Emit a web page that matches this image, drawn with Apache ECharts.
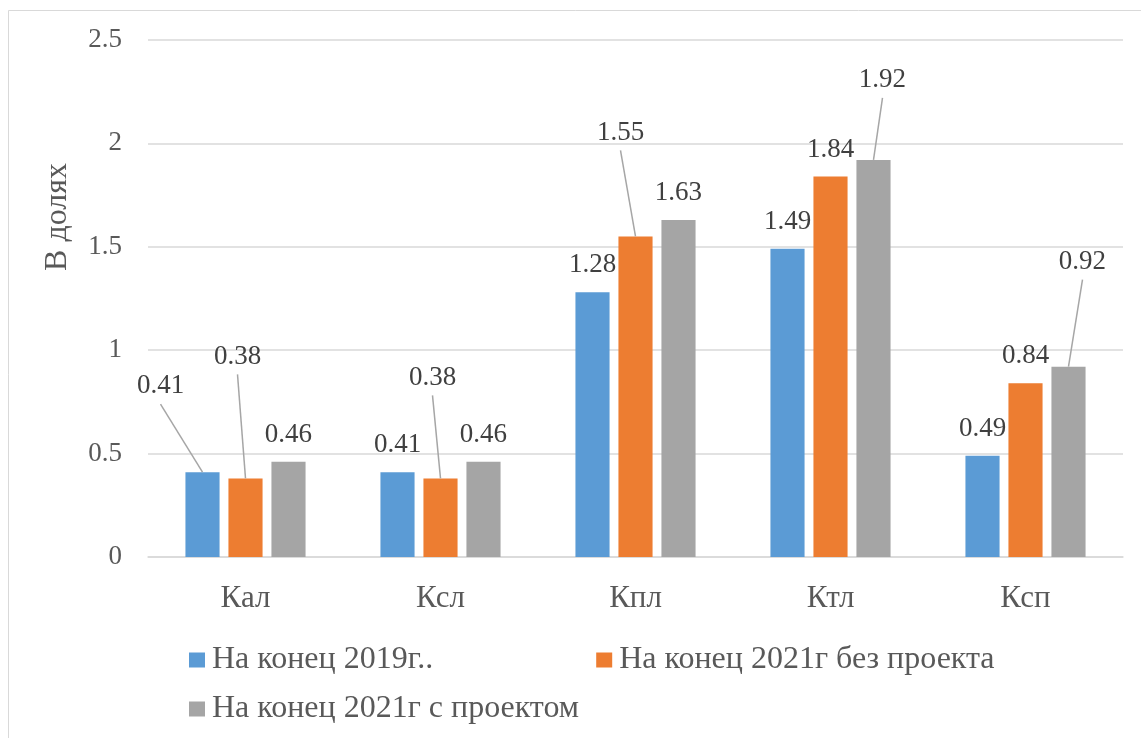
<!DOCTYPE html>
<html>
<head>
<meta charset="utf-8">
<script src="https://cdn.jsdelivr.net/npm/echarts@6/dist/echarts.min.js"></script>
<style>
  html, body { margin: 0; padding: 0; background: #ffffff; }
  #chart { width: 1141px; height: 738px; }
</style>
</head>
<body>
<div id="chart"></div>
<script>
// Coefficients (в долях) by indicator
const categories = ['Кал', 'Ксл', 'Кпл', 'Ктл', 'Ксп'];
const seriesNames = ['На конец 2019г..', 'На конец 2021г без проекта', 'На конец 2021г с проектом'];
const values2019 = [0.41, 0.41, 1.28, 1.49, 0.49];
const values2021NoProject = [0.38, 0.38, 1.55, 1.84, 0.84];
const values2021Project = [0.46, 0.46, 1.63, 1.92, 0.92];
const yTickStep = 0.5;
const yMax = 2.5;

const seriesValues = [values2019, values2021NoProject, values2021Project];
const colors = ['#5b9bd5', '#ed7d31', '#a5a5a5'];
const FONT = "'Liberation Serif', 'Times New Roman', serif";

// Bar geometry (fractions of the category band)
const BAR_W = 0.175;
const BAR_GAP = 0.26;

// Labels moved away from their bar, with a leader line back to the bar top
// key: seriesIndex-categoryIndex, offsets of the label centre from the bar top
const movedLabels = {
  '0-0': { dx: -42, dy: -86 },
  '1-0': { dx: -8, dy: -122 },
  '1-1': { dx: -8, dy: -101 },
  '1-2': { dx: -15, dy: -104 },
  '2-3': { dx: 9, dy: -80 },
  '2-4': { dx: 14, dy: -105 }
};
const DEFAULT_LABEL_DY = -27;

const chart = echarts.init(document.getElementById('chart'), null, { renderer: 'canvas' });

const barSeries = seriesValues.map((vals, s) => ({
  name: seriesNames[s],
  type: 'bar',
  data: vals,
  barWidth: (BAR_W * 100) + '%',
  barGap: (BAR_GAP * 100) + '%',
  itemStyle: { color: colors[s] },
  z: 2
}));

// Value labels and their leader lines, placed over each bar
const labelSeries = seriesValues.map((vals, s) => ({
  type: 'custom',
  data: vals.map((v, i) => [i, v]),
  clip: false,
  z: 5,
  silent: true,
  renderItem: function (params, api) {
    const catIdx = api.value(0);
    const val = api.value(1);
    const top = api.coord([catIdx, val]);
    const band = api.size([1, 0])[0];
    const w = band * BAR_W;
    const x0 = top[0] + (s - 1) * (w * (1 + BAR_GAP));
    const y0 = top[1];
    const moved = movedLabels[s + '-' + catIdx];
    const children = [];
    let lx = x0, ly = y0 + DEFAULT_LABEL_DY;
    if (moved) {
      lx = x0 + moved.dx;
      ly = y0 + moved.dy;
      children.push({
        type: 'line',
        shape: { x1: x0, y1: y0, x2: lx, y2: ly + 18 },
        style: { stroke: '#a6a6a6', lineWidth: 1.5 }
      });
    }
    children.push({
      type: 'text',
      style: {
        text: String(val),
        x: lx,
        y: ly,
        align: 'center',
        verticalAlign: 'middle',
        fill: '#404040',
        fontSize: 27,
        fontFamily: FONT
      }
    });
    return { type: 'group', children: children };
  }
}));

const legendText = { color: '#595959', fontSize: 32, lineHeight: 32, fontFamily: FONT, padding: [0, 0, 0, 2] };

const option = {
  animation: false,
  backgroundColor: '#ffffff',
  color: colors,
  textStyle: { fontFamily: FONT },
  grid: { left: 148, right: 18, top: 40, bottom: 181, containLabel: false },
  graphic: [
    {
      type: 'rect',
      shape: { x: 8.5, y: 10.5, width: 1300, height: 900 },
      style: { fill: 'none', stroke: '#d9d9d9', lineWidth: 1 },
      silent: true,
      z: -10
    },
    {
      type: 'text',
      x: 58,
      y: 217,
      rotation: Math.PI / 2,
      style: {
        text: 'В долях',
        align: 'center',
        verticalAlign: 'middle',
        fill: '#595959',
        fontSize: 32,
        fontFamily: FONT
      }
    }
  ],
  legend: [
    {
      data: seriesNames.slice(0, 2),
      left: 184,
      top: 639,
      itemWidth: 16,
      itemHeight: 15,
      itemGap: 163,
      icon: 'rect',
      textStyle: legendText
    },
    {
      data: seriesNames.slice(2),
      left: 184,
      top: 688,
      itemWidth: 16,
      itemHeight: 15,
      icon: 'rect',
      textStyle: legendText
    }
  ],
  xAxis: {
    type: 'category',
    data: categories,
    axisLine: { lineStyle: { color: '#d9d9d9', width: 1.5 } },
    axisTick: { show: false },
    axisLabel: { color: '#595959', fontSize: 31, fontFamily: FONT, margin: 26 }
  },
  yAxis: {
    type: 'value',
    min: 0,
    max: yMax,
    interval: yTickStep,
    axisLine: { show: false },
    axisTick: { show: false },
    splitLine: { lineStyle: { color: '#d9d9d9', width: 1.5 } },
    axisLabel: { color: '#595959', fontSize: 27, fontFamily: FONT, margin: 26 }
  },
  series: barSeries.concat(labelSeries)
};

chart.setOption(option);
</script>
</body>
</html>
